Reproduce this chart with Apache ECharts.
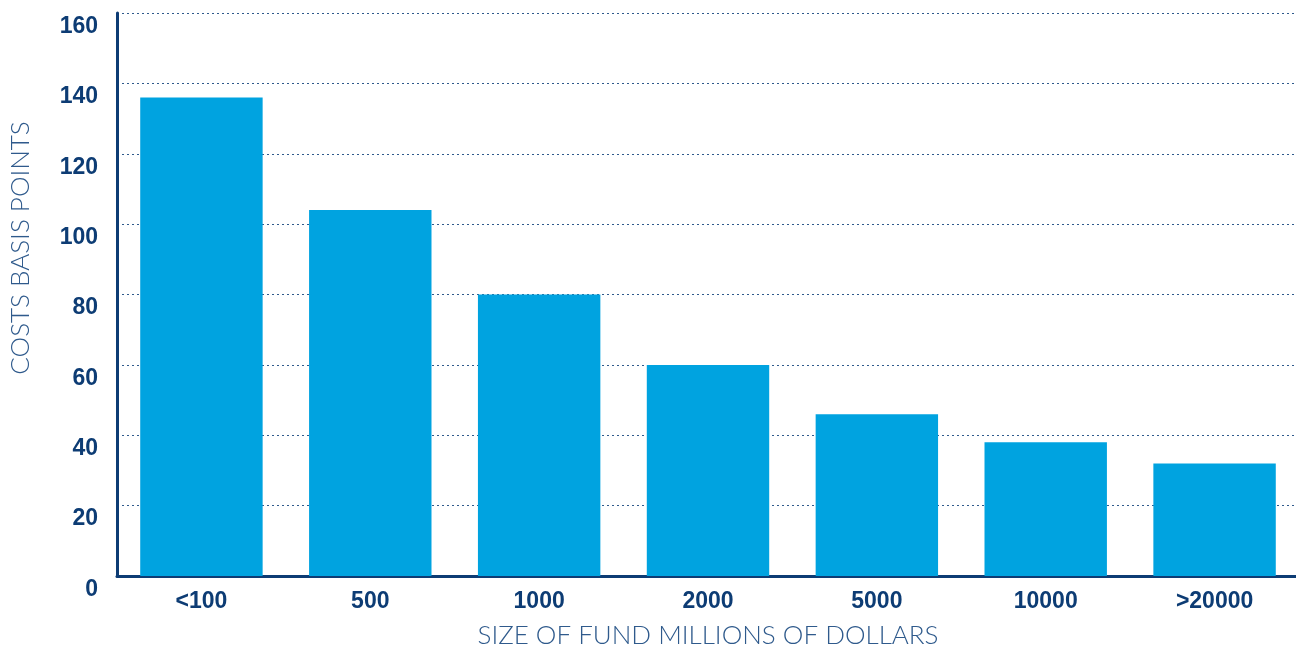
<!DOCTYPE html>
<html><head><meta charset="utf-8">
<script src="https://cdn.jsdelivr.net/npm/echarts@6/dist/echarts.min.js"></script>
<style>html,body{margin:0;padding:0;background:#fff}#c{width:1296px;height:648px}</style>
</head><body><div id="c"></div>
<script>
const categories = ['<100','500','1000','2000','5000','10000','>20000'];
const costs = [136, 104, 80, 60, 46, 38, 32];
const yTicks = [0,20,40,60,80,100,120,140,160];
const xTitle = 'SIZE OF FUND MILLIONS OF DOLLARS';
const yTitle = 'COSTS BASIS POINTS';

const navy = '#0d3c74';
const chart = echarts.init(document.getElementById('c'));
chart.setOption({
  animation: false,
  grid: {left: 117, right: -3, top: 13, bottom: 72, containLabel: false, outerBoundsMode: 'none'},
  xAxis: {
    type: 'category', data: categories,
    axisLine: {lineStyle: {color: navy, width: 3}},
    axisTick: {show: false},
    axisLabel: {color: navy, fontFamily: 'Liberation Sans, Arial', fontWeight: 'bold', fontSize: 23, margin: 14},
    name: xTitle, nameLocation: 'middle', nameGap: 47,
    nameTextStyle: {color: '#2f5a8c', fontFamily: 'Lato', fontWeight: 300, fontSize: 26}
  },
  yAxis: {
    type: 'value', min: 0, max: 160, interval: 20,
    axisLine: {show: true, lineStyle: {color: navy, width: 3}},
    axisTick: {show: false},
    axisLabel: {color: navy, fontFamily: 'Liberation Sans, Arial', fontWeight: 'bold', fontSize: 23, margin: 19, verticalAlign: 'top', padding: [2,0,0,0],
      formatter: v => yTicks.includes(v) ? String(v) : ''},
    splitLine: {lineStyle: {color: '#2f5a8c', type: [2,3], width: 1}}
  },
  graphic: [{
    type: 'text', rotation: Math.PI/2,
    style: {text: yTitle, fill: '#2f5a8c', font: '300 26px Lato', textAlign: 'center', textVerticalAlign: 'middle'},
    x: 21, y: 248
  }],
  series: [{
    type: 'bar', data: costs, barWidth: '72.5%',
    itemStyle: {color: '#00a3e0'}
  }]
});
</script></body></html>
